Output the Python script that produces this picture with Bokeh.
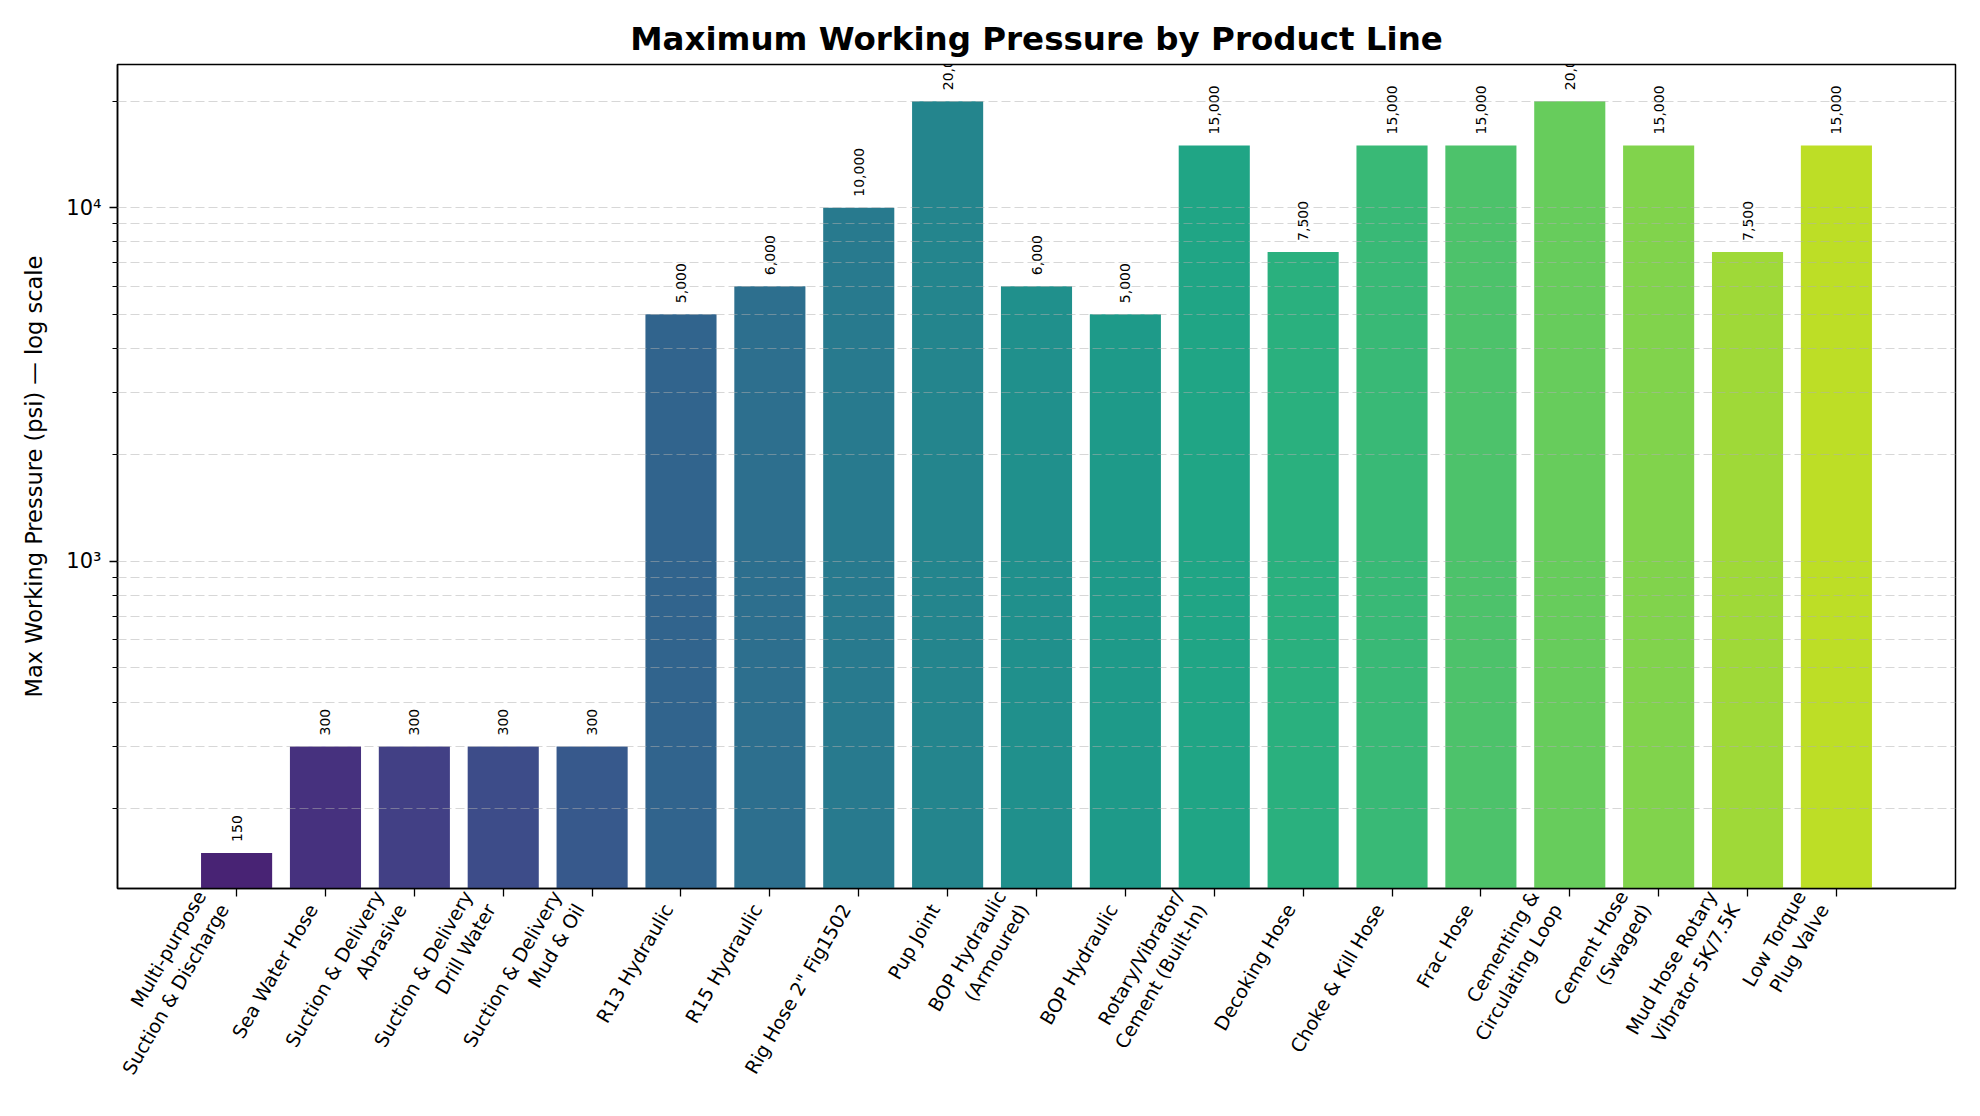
import math
from bokeh.plotting import figure
from bokeh.models import (Range1d, FixedTicker, ColumnDataSource, Label, LinearAxis)
from bokeh.palettes import Viridis256
from bokeh.embed import file_html
from bokeh.resources import INLINE

# ---- data ----
categories = [
    "Multi-purpose\nSuction & Discharge",
    "Sea Water Hose",
    "Suction & Delivery\nAbrasive",
    "Suction & Delivery\nDrill Water",
    "Suction & Delivery\nMud & Oil",
    "R13 Hydraulic",
    "R15 Hydraulic",
    "Rig Hose 2\" Fig1502",
    "Pup Joint",
    "BOP Hydraulic\n(Armoured)",
    "BOP Hydraulic",
    "Rotary/Vibrator/\nCement (Built-In)",
    "Decoking Hose",
    "Choke & Kill Hose",
    "Frac Hose",
    "Cementing &\nCirculating Loop",
    "Cement Hose\n(Swaged)",
    "Mud Hose Rotary\nVibrator 5K/7.5K",
    "Low Torque\nPlug Valve",
]
pressures = [150, 300, 300, 300, 300, 5000, 6000, 10000, 20000, 6000, 5000,
             15000, 7500, 15000, 15000, 20000, 15000, 7500, 15000]
major_ticks = [1000, 10000]
major_tick_labels = {1000: "10³", 10000: "10⁴"}
minor_ticks = [200, 300, 400, 500, 600, 700, 800, 900,
               2000, 3000, 4000, 5000, 6000, 7000, 8000, 9000, 20000]

n = len(categories)
positions = [i + 0.5 for i in range(n)]          # category slots
colors = []
for i in range(n):
    t = 0.1 + 0.8 * i / (n - 1)
    colors.append(Viridis256[min(int(t * 256), 255)])
labels = [f"{v:,}" for v in pressures]

src = ColumnDataSource(dict(x=positions, top=pressures, color=colors, label=labels))

FONT = "DejaVu Sans"
PAD = 0.84          # padding on each side (matplotlib-like margins)
SHIFT = 0.146       # label axis shift, emulates right-aligned rotated labels

p = figure(
    x_range=Range1d(-PAD, n + PAD),
    y_axis_type="log",
    y_range=Range1d(119, 25400),
    width=1964, height=1114,
    min_border_left=117, min_border_right=9, min_border_top=64, min_border_bottom=226,
    output_backend="svg", toolbar_location=None,
    title="Maximum Working Pressure by Product Line",
)

p.vbar(x="x", top="top", bottom=1, width=0.8, fill_color="color", line_color=None, source=src)

# value labels
for x, v, txt in zip(positions, pressures, labels):
    p.add_layout(Label(x=x, y=v, text=txt, angle=math.pi / 2,
                       text_align="left", text_baseline="middle", y_offset=11,
                       text_font_size="14px", text_color="black", text_font=FONT))

# title
p.title.text_font = FONT
p.title.text_font_size = "32.5px"
p.title.text_font_style = "bold"
p.title.align = "center"
p.title.text_color = "black"
p.title.standoff = 13

# frame
p.outline_line_color = "black"
p.outline_line_width = 1.5
p.background_fill_color = "white"
p.border_fill_color = "white"

# grids
p.xgrid.visible = False
p.ygrid.grid_line_color = "#b0b0b0"
p.ygrid.grid_line_alpha = 0.5
p.ygrid.grid_line_dash = "9 4"
p.ygrid.grid_line_width = 1.2
p.ygrid.minor_grid_line_color = "#b0b0b0"
p.ygrid.minor_grid_line_alpha = 0.5
p.ygrid.minor_grid_line_dash = "9 4"
p.ygrid.minor_grid_line_width = 1.2
p.ygrid.level = "overlay"

# y axis
ya = p.yaxis[0]
ya.ticker = FixedTicker(ticks=major_ticks, minor_ticks=minor_ticks)
ya.major_label_overrides = major_tick_labels
ya.axis_label = "Max Working Pressure (psi) — log scale"
ya.axis_label_text_font = FONT
ya.axis_label_text_font_size = "22.5px"
ya.axis_label_text_font_style = "normal"
ya.axis_label_text_color = "black"
ya.axis_label_standoff = 16
ya.major_label_text_font = FONT
ya.major_label_text_font_size = "21px"
ya.major_label_text_color = "black"
ya.major_label_standoff = 8
ya.axis_line_color = "black"
ya.axis_line_width = 1.5
ya.major_tick_out = 8
ya.major_tick_in = 0
ya.minor_tick_out = 5
ya.minor_tick_in = 0
ya.major_tick_line_width = 1.3
ya.minor_tick_line_width = 1.1
ya.major_tick_line_color = "black"
ya.minor_tick_line_color = "black"

# x axis: ticks only
xa = p.xaxis[0]
xa.ticker = FixedTicker(ticks=positions, minor_ticks=[])
xa.major_label_overrides = {x: "" for x in positions}
xa.major_label_text_font_size = "0px"
xa.major_label_standoff = 0
xa.axis_line_color = "black"
xa.axis_line_width = 1.5
xa.major_tick_out = 8
xa.major_tick_in = 0
xa.major_tick_line_width = 1.3
xa.major_tick_line_color = "black"
xa.minor_tick_line_color = None

# x tick labels on a slightly shifted range (right edge of rotated text at the tick)
p.extra_x_ranges = {"lbl": Range1d(-PAD + SHIFT, n + PAD + SHIFT)}
label_text = {}
for pos, c in zip(positions, categories):
    label_text[pos] = c + "\n" if "\n" in c else c
la = LinearAxis(x_range_name="lbl", ticker=FixedTicker(ticks=positions, minor_ticks=[]),
                major_label_overrides=label_text)
la.major_label_orientation = math.pi / 3
la.major_label_text_font = FONT
la.major_label_text_font_size = "19px"
la.major_label_text_color = "black"
la.major_label_standoff = 9
la.axis_line_color = None
la.major_tick_line_color = None
la.minor_tick_line_color = None
la.major_tick_out = 0
la.major_tick_in = 0
p.add_layout(la, "below")

html = file_html(p, INLINE)
with open("out.html", "w") as f:
    f.write(html)
